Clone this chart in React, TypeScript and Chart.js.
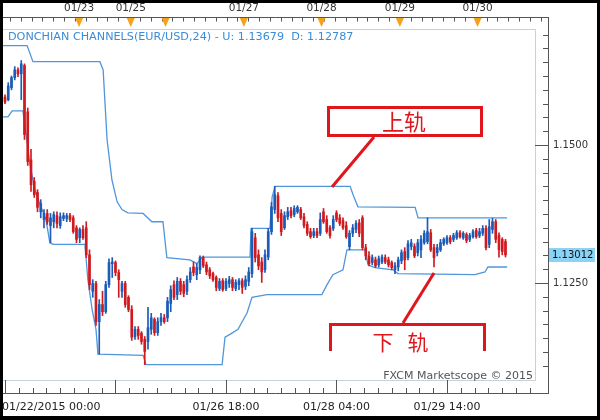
import React, { useEffect, useRef } from "react";
import { Chart, registerables } from "chart.js";

Chart.register(...registerables);

// ---- hourly EUR/USD candles (bar index 0 = 01/22/2015 00:00) ----
const opens = [
  1.1587, 1.1582, 1.1604, 1.1622, 1.1636, 1.1629, 1.1644, 1.1560, 1.1473, 1.1434,
  1.1414, 1.1379, 1.1365, 1.1376, 1.1354, 1.1361, 1.1372, 1.1354, 1.1367, 1.1367,
  1.1372, 1.1368, 1.1350, 1.1332, 1.1347, 1.1350, 1.1301, 1.1235, 1.1249, 1.1180,
  1.1211, 1.1198, 1.1247, 1.1285, 1.1287, 1.1269, 1.1235, 1.1249, 1.1224, 1.1202,
  1.1153, 1.1166, 1.1159, 1.1148, 1.1144, 1.1166, 1.1184, 1.1160, 1.1180, 1.1187,
  1.1187, 1.1213, 1.1247, 1.1229, 1.1253, 1.1247, 1.1235, 1.1256, 1.1279, 1.1265,
  1.1274, 1.1296, 1.1283, 1.1274, 1.1267, 1.1260, 1.1240, 1.1254, 1.1240, 1.1249,
  1.1256, 1.1240, 1.1247, 1.1254, 1.1244, 1.1253, 1.1267, 1.1332, 1.1301, 1.1288,
  1.1274, 1.1297, 1.1343, 1.1383, 1.1408, 1.1376, 1.1350, 1.1370, 1.1381, 1.1374,
  1.1379, 1.1383, 1.1370, 1.1356, 1.1343, 1.1336, 1.1343, 1.1340, 1.1379, 1.1365,
  1.1350, 1.1349, 1.1377, 1.1368, 1.1363, 1.1354, 1.1316, 1.1340, 1.1347, 1.1359,
  1.1368, 1.1314, 1.1299, 1.1287, 1.1292, 1.1283, 1.1288, 1.1296, 1.1292, 1.1287,
  1.1274, 1.1279, 1.1290, 1.1307, 1.1296, 1.1316, 1.1316, 1.1305, 1.1310, 1.1323,
  1.1325, 1.1341, 1.1314, 1.1305, 1.1310, 1.1321, 1.1323, 1.1332, 1.1329, 1.1332,
  1.1341, 1.1332, 1.1338, 1.1329, 1.1334, 1.1345, 1.1336, 1.1340, 1.1349, 1.1320,
  1.1347, 1.1361, 1.1336, 1.1329, 1.1325,
];
const highs = [
  1.1591, 1.1613, 1.1625, 1.1642, 1.1640, 1.1653, 1.1647, 1.1567, 1.1492, 1.1441,
  1.1419, 1.1401, 1.1383, 1.1383, 1.1376, 1.1379, 1.1379, 1.1377, 1.1377, 1.1376,
  1.1376, 1.1372, 1.1354, 1.1350, 1.1354, 1.1361, 1.1310, 1.1256, 1.1253, 1.1220,
  1.1235, 1.1253, 1.1294, 1.1296, 1.1290, 1.1274, 1.1253, 1.1253, 1.1227, 1.1209,
  1.1171, 1.1171, 1.1162, 1.1153, 1.1206, 1.1195, 1.1187, 1.1187, 1.1195, 1.1193,
  1.1224, 1.1245, 1.1254, 1.1260, 1.1258, 1.1253, 1.1263, 1.1278, 1.1288, 1.1285,
  1.1299, 1.1299, 1.1288, 1.1278, 1.1270, 1.1263, 1.1258, 1.1258, 1.1258, 1.1262,
  1.1260, 1.1256, 1.1258, 1.1258, 1.1263, 1.1278, 1.1349, 1.1340, 1.1310, 1.1296,
  1.1310, 1.1349, 1.1396, 1.1425, 1.1414, 1.1383, 1.1379, 1.1387, 1.1387, 1.1390,
  1.1390, 1.1387, 1.1376, 1.1361, 1.1349, 1.1349, 1.1349, 1.1377, 1.1385, 1.1372,
  1.1354, 1.1372, 1.1381, 1.1374, 1.1368, 1.1361, 1.1345, 1.1356, 1.1363, 1.1365,
  1.1372, 1.1320, 1.1307, 1.1301, 1.1297, 1.1299, 1.1301, 1.1301, 1.1297, 1.1290,
  1.1287, 1.1297, 1.1310, 1.1314, 1.1327, 1.1329, 1.1321, 1.1329, 1.1336, 1.1345,
  1.1368, 1.1347, 1.1320, 1.1320, 1.1329, 1.1332, 1.1336, 1.1336, 1.1340, 1.1345,
  1.1345, 1.1343, 1.1341, 1.1340, 1.1347, 1.1349, 1.1349, 1.1354, 1.1354, 1.1365,
  1.1367, 1.1365, 1.1341, 1.1332, 1.1329,
];
const lows = [
  1.1575, 1.1580, 1.1600, 1.1618, 1.1624, 1.1582, 1.1510, 1.1463, 1.1416, 1.1405,
  1.1379, 1.1368, 1.1350, 1.1356, 1.1323, 1.1350, 1.1350, 1.1349, 1.1363, 1.1361,
  1.1361, 1.1340, 1.1323, 1.1323, 1.1329, 1.1296, 1.1238, 1.1224, 1.1173, 1.1121,
  1.1191, 1.1195, 1.1242, 1.1260, 1.1263, 1.1224, 1.1224, 1.1206, 1.1198, 1.1146,
  1.1148, 1.1148, 1.1139, 1.1102, 1.1130, 1.1157, 1.1155, 1.1155, 1.1173, 1.1177,
  1.1180, 1.1198, 1.1220, 1.1220, 1.1229, 1.1225, 1.1229, 1.1251, 1.1263, 1.1256,
  1.1267, 1.1278, 1.1265, 1.1258, 1.1253, 1.1236, 1.1236, 1.1235, 1.1236, 1.1242,
  1.1236, 1.1236, 1.1238, 1.1231, 1.1238, 1.1245, 1.1260, 1.1288, 1.1274, 1.1251,
  1.1269, 1.1292, 1.1338, 1.1376, 1.1361, 1.1336, 1.1347, 1.1365, 1.1368, 1.1370,
  1.1376, 1.1365, 1.1350, 1.1336, 1.1331, 1.1332, 1.1332, 1.1336, 1.1358, 1.1340,
  1.1331, 1.1345, 1.1361, 1.1354, 1.1347, 1.1331, 1.1310, 1.1334, 1.1341, 1.1334,
  1.1310, 1.1292, 1.1281, 1.1283, 1.1278, 1.1279, 1.1285, 1.1285, 1.1279, 1.1274,
  1.1267, 1.1272, 1.1285, 1.1274, 1.1292, 1.1310, 1.1296, 1.1299, 1.1296, 1.1320,
  1.1321, 1.1307, 1.1279, 1.1299, 1.1307, 1.1318, 1.1320, 1.1321, 1.1325, 1.1329,
  1.1331, 1.1329, 1.1323, 1.1325, 1.1331, 1.1331, 1.1332, 1.1336, 1.1310, 1.1314,
  1.1340, 1.1323, 1.1297, 1.1301, 1.1297,
];
const closes = [
  1.1578, 1.1607, 1.1622, 1.1636, 1.1629, 1.1647, 1.1519, 1.1470, 1.1428, 1.1410,
  1.1387, 1.1394, 1.1376, 1.1361, 1.1368, 1.1374, 1.1358, 1.1370, 1.1372, 1.1372,
  1.1365, 1.1343, 1.1329, 1.1347, 1.1332, 1.1301, 1.1247, 1.1249, 1.1180, 1.1211,
  1.1198, 1.1247, 1.1287, 1.1288, 1.1269, 1.1256, 1.1249, 1.1211, 1.1202, 1.1152,
  1.1166, 1.1155, 1.1144, 1.1126, 1.1169, 1.1187, 1.1160, 1.1180, 1.1187, 1.1180,
  1.1217, 1.1238, 1.1224, 1.1253, 1.1235, 1.1231, 1.1256, 1.1270, 1.1269, 1.1278,
  1.1296, 1.1281, 1.1270, 1.1263, 1.1256, 1.1242, 1.1253, 1.1238, 1.1253, 1.1256,
  1.1242, 1.1251, 1.1254, 1.1242, 1.1256, 1.1270, 1.1343, 1.1296, 1.1281, 1.1270,
  1.1301, 1.1343, 1.1388, 1.1410, 1.1368, 1.1343, 1.1372, 1.1379, 1.1372, 1.1385,
  1.1387, 1.1368, 1.1354, 1.1340, 1.1334, 1.1343, 1.1336, 1.1365, 1.1361, 1.1343,
  1.1336, 1.1365, 1.1365, 1.1358, 1.1350, 1.1334, 1.1340, 1.1350, 1.1358, 1.1340,
  1.1314, 1.1299, 1.1285, 1.1296, 1.1281, 1.1294, 1.1297, 1.1288, 1.1283, 1.1278,
  1.1281, 1.1292, 1.1305, 1.1292, 1.1321, 1.1323, 1.1299, 1.1323, 1.1329, 1.1340,
  1.1343, 1.1310, 1.1296, 1.1314, 1.1323, 1.1329, 1.1332, 1.1325, 1.1336, 1.1341,
  1.1334, 1.1340, 1.1327, 1.1336, 1.1343, 1.1334, 1.1343, 1.1349, 1.1314, 1.1352,
  1.1361, 1.1329, 1.1310, 1.1307, 1.1301,
];

// ---- Donchian channel (24), read as break points: bar index / price ----
const upperBar = [-0.6, 6.8, 8.6, 29.2, 30.2, 31.4, 32.9, 34.5, 36, 37.8, 42.5, 45.2, 48.6, 49.8, 56.9, 59.1, 60.6, 75.4, 75.7, 81.5, 82.2, 83.1, 106.2, 107.1, 108.6, 126.2, 127.1, 154.5];
const upperVal = [1.1680, 1.1680, 1.1651, 1.1651, 1.1636, 1.1510, 1.1437, 1.1397, 1.1383, 1.1377, 1.1376, 1.1361, 1.1361, 1.1296, 1.1292, 1.1285, 1.1297, 1.1297, 1.1349, 1.1349, 1.1406, 1.1425, 1.1425, 1.1410, 1.1388, 1.1387, 1.1368, 1.1368];
const lowerBar = [-0.6, 0.9, 2.2, 5.5, 6.5, 7.7, 9.2, 10.8, 12.6, 13.8, 14.8, 24.6, 25.5, 26.8, 28, 28.6, 42.5, 43.4, 66.8, 67.7, 69.2, 71.7, 74.5, 76, 80.6, 97.5, 99.1, 100.9, 104, 105.2, 110.8, 111.7, 113.8, 119.4, 120.9, 144.6, 147.7, 148.6, 154.5];
const lowerVal = [1.1551, 1.1551, 1.1562, 1.1562, 1.1519, 1.1464, 1.1419, 1.1392, 1.1365, 1.1323, 1.1320, 1.1320, 1.1256, 1.1202, 1.1166, 1.1121, 1.1119, 1.1102, 1.1102, 1.1152, 1.1157, 1.1166, 1.1196, 1.1224, 1.1229, 1.1229, 1.1247, 1.1265, 1.1274, 1.1310, 1.1310, 1.1283, 1.1278, 1.1274, 1.1267, 1.1265, 1.1270, 1.1279, 1.1279];

// ---- axis labels ----
const dayBars = [22.8, 38.7, 49.4, 73.5, 97.4, 121.5, 145.4];
const dayLabels = ["01/23", "01/25", "", "01/27", "01/28", "01/29", "01/30"];
const timeTickBars = [0, 34, 68, 102, 136];
const timeTickLabels = ["01/22/2015 00:00", "", "01/26 18:00", "01/28 04:00", "01/29 14:00"];
const priceLabels = [1.15, 1.125];
const priceMinorStep = 0.0025;
const lastPrice = 1.13012;
const upperLast = "1.13679";
const lowerLast = "1.12787";
const titleText = `DONCHIAN CHANNELS(EUR/USD,24) - U: ${upperLast}  D: ${lowerLast}`;
const upperNote = "上轨";
const lowerNote = ["下", "轨"];
const credit = "FXCM Marketscope © 2015";

const RED = "#d01a1f";
const BLUE = "#1a5cb8";
const CHAN = "#4f96dc";
const NOTE = "#e0161c";
const AXIS = "#555";

const candleColor = (ctx: any) =>
  closes[ctx.dataIndex] < opens[ctx.dataIndex] ? RED : BLUE;

const decor = {
  id: "decor",
  beforeDraw(chart: any) {
    const c = chart.ctx;
    const a = chart.chartArea;
    c.save();
    c.fillStyle = "#000";
    c.fillRect(0, 0, 600, 420);
    c.fillStyle = "#fff";
    c.fillRect(3, 3, 594, 413);
    c.strokeStyle = "#c8d0d8";
    c.lineWidth = 1;
    c.beginPath();
    c.moveTo(a.left, a.top + 0.5);
    c.lineTo(a.right + 0.5, a.top + 0.5);
    c.lineTo(a.right + 0.5, a.bottom + 0.5);
    c.lineTo(a.left, a.bottom + 0.5);
    c.stroke();
    c.restore();
  },
  afterDraw(chart: any) {
    const c = chart.ctx;
    const xs = chart.scales.x;
    const ys = chart.scales.y;
    const a = chart.chartArea;
    const px = (v: number) => Math.round(xs.getPixelForValue(v)) + 0.5;
    const py = (v: number) => Math.round(ys.getPixelForValue(v)) + 0.5;
    const seg = (x1: number, y1: number, x2: number, y2: number) => {
      c.beginPath();
      c.moveTo(x1, y1);
      c.lineTo(x2, y2);
      c.stroke();
    };
    c.save();
    c.strokeStyle = AXIS;
    c.lineWidth = 1;

    // top time axis
    seg(3, 17.5, 548, 17.5);
    for (let b = 1.5; xs.getPixelForValue(b) < 546; b += 10 / 3) {
      seg(px(b), 17.5, px(b), 21.5);
    }
    c.font = '10.5px "DejaVu Sans"';
    c.textAlign = "center";
    c.textBaseline = "middle";
    dayBars.forEach((b, k) => {
      const x = xs.getPixelForValue(b);
      c.fillStyle = "#f4a11c";
      c.beginPath();
      c.moveTo(x - 4, 18);
      c.lineTo(x + 4, 18);
      c.lineTo(x, 27);
      c.closePath();
      c.fill();
      if (dayLabels[k]) {
        c.fillStyle = "#333";
        c.fillText(dayLabels[k], x, 8);
      }
    });

    // right price axis
    seg(548.5, 17, 548.5, 394);
    const lo = ys.min, hi = ys.max;
    for (let v = Math.ceil(lo / priceMinorStep) * priceMinorStep; v <= hi; v += priceMinorStep) {
      const y = py(v);
      if (y < a.top || y > a.bottom) continue;
      const major = priceLabels.some((p) => Math.abs(p - v) < 1e-7);
      seg(major ? 535 : 543, y, 548, y);
    }
    c.font = '10px "DejaVu Sans"';
    c.textAlign = "left";
    c.fillStyle = "#333";
    priceLabels.forEach((p) => c.fillText(p.toFixed(4), 553, py(p)));
    const ly = ys.getPixelForValue(lastPrice);
    c.fillStyle = "#8ad2f6";
    c.fillRect(549, Math.round(ly) - 7, 46, 14);
    c.fillStyle = "#111";
    c.fillText(lastPrice.toFixed(5), 552, ly + 0.5);

    // bottom time axis
    c.strokeStyle = AXIS;
    seg(3, 393.5, 548, 393.5);
    for (let b = 0; xs.getPixelForValue(b) <= a.right; b += 4.25) {
      seg(px(b), 388, px(b), 393);
    }
    timeTickBars.forEach((b) => seg(px(b), 380, px(b), 393));
    c.font = '11px "DejaVu Sans"';
    c.fillStyle = "#222";
    timeTickBars.forEach((b, k) => {
      const t = timeTickLabels[k];
      if (!t) return;
      if (k === 0) {
        c.textAlign = "left";
        c.fillText(t, 2, 407);
      } else {
        c.textAlign = "center";
        c.fillText(t, xs.getPixelForValue(b), 407);
      }
    });

    // indicator title and credit
    c.textAlign = "left";
    c.fillStyle = "#3b8bd5";
    c.font = '11.2px "DejaVu Sans"';
    c.fillText(titleText, 8, 37);
    c.textAlign = "right";
    c.fillStyle = "#555";
    c.font = '11px "DejaVu Sans"';
    c.fillText(credit, 533, 376);

    // annotations
    c.strokeStyle = NOTE;
    c.fillStyle = NOTE;
    c.lineWidth = 3;
    c.strokeRect(328.5, 107.5, 153, 28);
    seg(374, 137, 332, 187);
    c.beginPath();
    c.moveTo(330.5, 351);
    c.lineTo(330.5, 324.5);
    c.lineTo(484.5, 324.5);
    c.lineTo(484.5, 351);
    c.stroke();
    seg(403, 323, 434, 273);
    c.textAlign = "center";
    c.textBaseline = "middle";
    c.font = '22px "Noto Sans CJK SC"';
    c.fillText(upperNote, 404, 122);
    c.font = '21px "Noto Sans CJK SC"';
    c.fillText(lowerNote[0], 383, 342);
    c.fillText(lowerNote[1], 418, 342);
    c.restore();
  },
};

export default function App() {
  const ref = useRef<HTMLCanvasElement | null>(null);
  useEffect(() => {
    if (!ref.current) return;
    const chart = new Chart(ref.current, {
      type: "bar",
      data: {
        datasets: [
          {
            type: "bar",
            label: "body",
            data: opens.map((o, i) => ({ x: i, y: [o, closes[i]] })) as any,
            backgroundColor: candleColor,
            barThickness: 2,
            minBarLength: 1,
            grouped: false,
            order: 1,
          },
          {
            type: "bar",
            label: "wick",
            data: lows.map((l, i) => ({ x: i, y: [l, highs[i]] })) as any,
            backgroundColor: candleColor,
            barThickness: 1,
            grouped: false,
            order: 2,
          },
          {
            type: "line",
            label: "upper",
            data: upperBar.map((b, k) => ({ x: b, y: upperVal[k] })),
            borderColor: CHAN,
            borderWidth: 1.3,
            pointRadius: 0,
            tension: 0,
            order: 3,
          },
          {
            type: "line",
            label: "lower",
            data: lowerBar.map((b, k) => ({ x: b, y: lowerVal[k] })),
            borderColor: CHAN,
            borderWidth: 1.3,
            pointRadius: 0,
            tension: 0,
            order: 3,
          },
        ] as any,
      },
      options: {
        animation: false,
        responsive: false,
        events: [],
        layout: { padding: { left: 3, top: 29, right: 65, bottom: 40 } },
        plugins: { legend: { display: false }, tooltip: { enabled: false } },
        scales: {
          x: { type: "linear", display: false, min: -0.615, max: 163.08, offset: false },
          y: { type: "linear", display: false, min: 1.1074275, max: 1.1710145 },
        },
      } as any,
      plugins: [decor],
    });
    return () => chart.destroy();
  }, []);
  return (
    <div style={{ position: "fixed", left: 0, top: 0, width: 600, height: 420 }}>
      <canvas ref={ref} width={600} height={420} style={{ display: "block", width: 600, height: 420 }} />
    </div>
  );
}
